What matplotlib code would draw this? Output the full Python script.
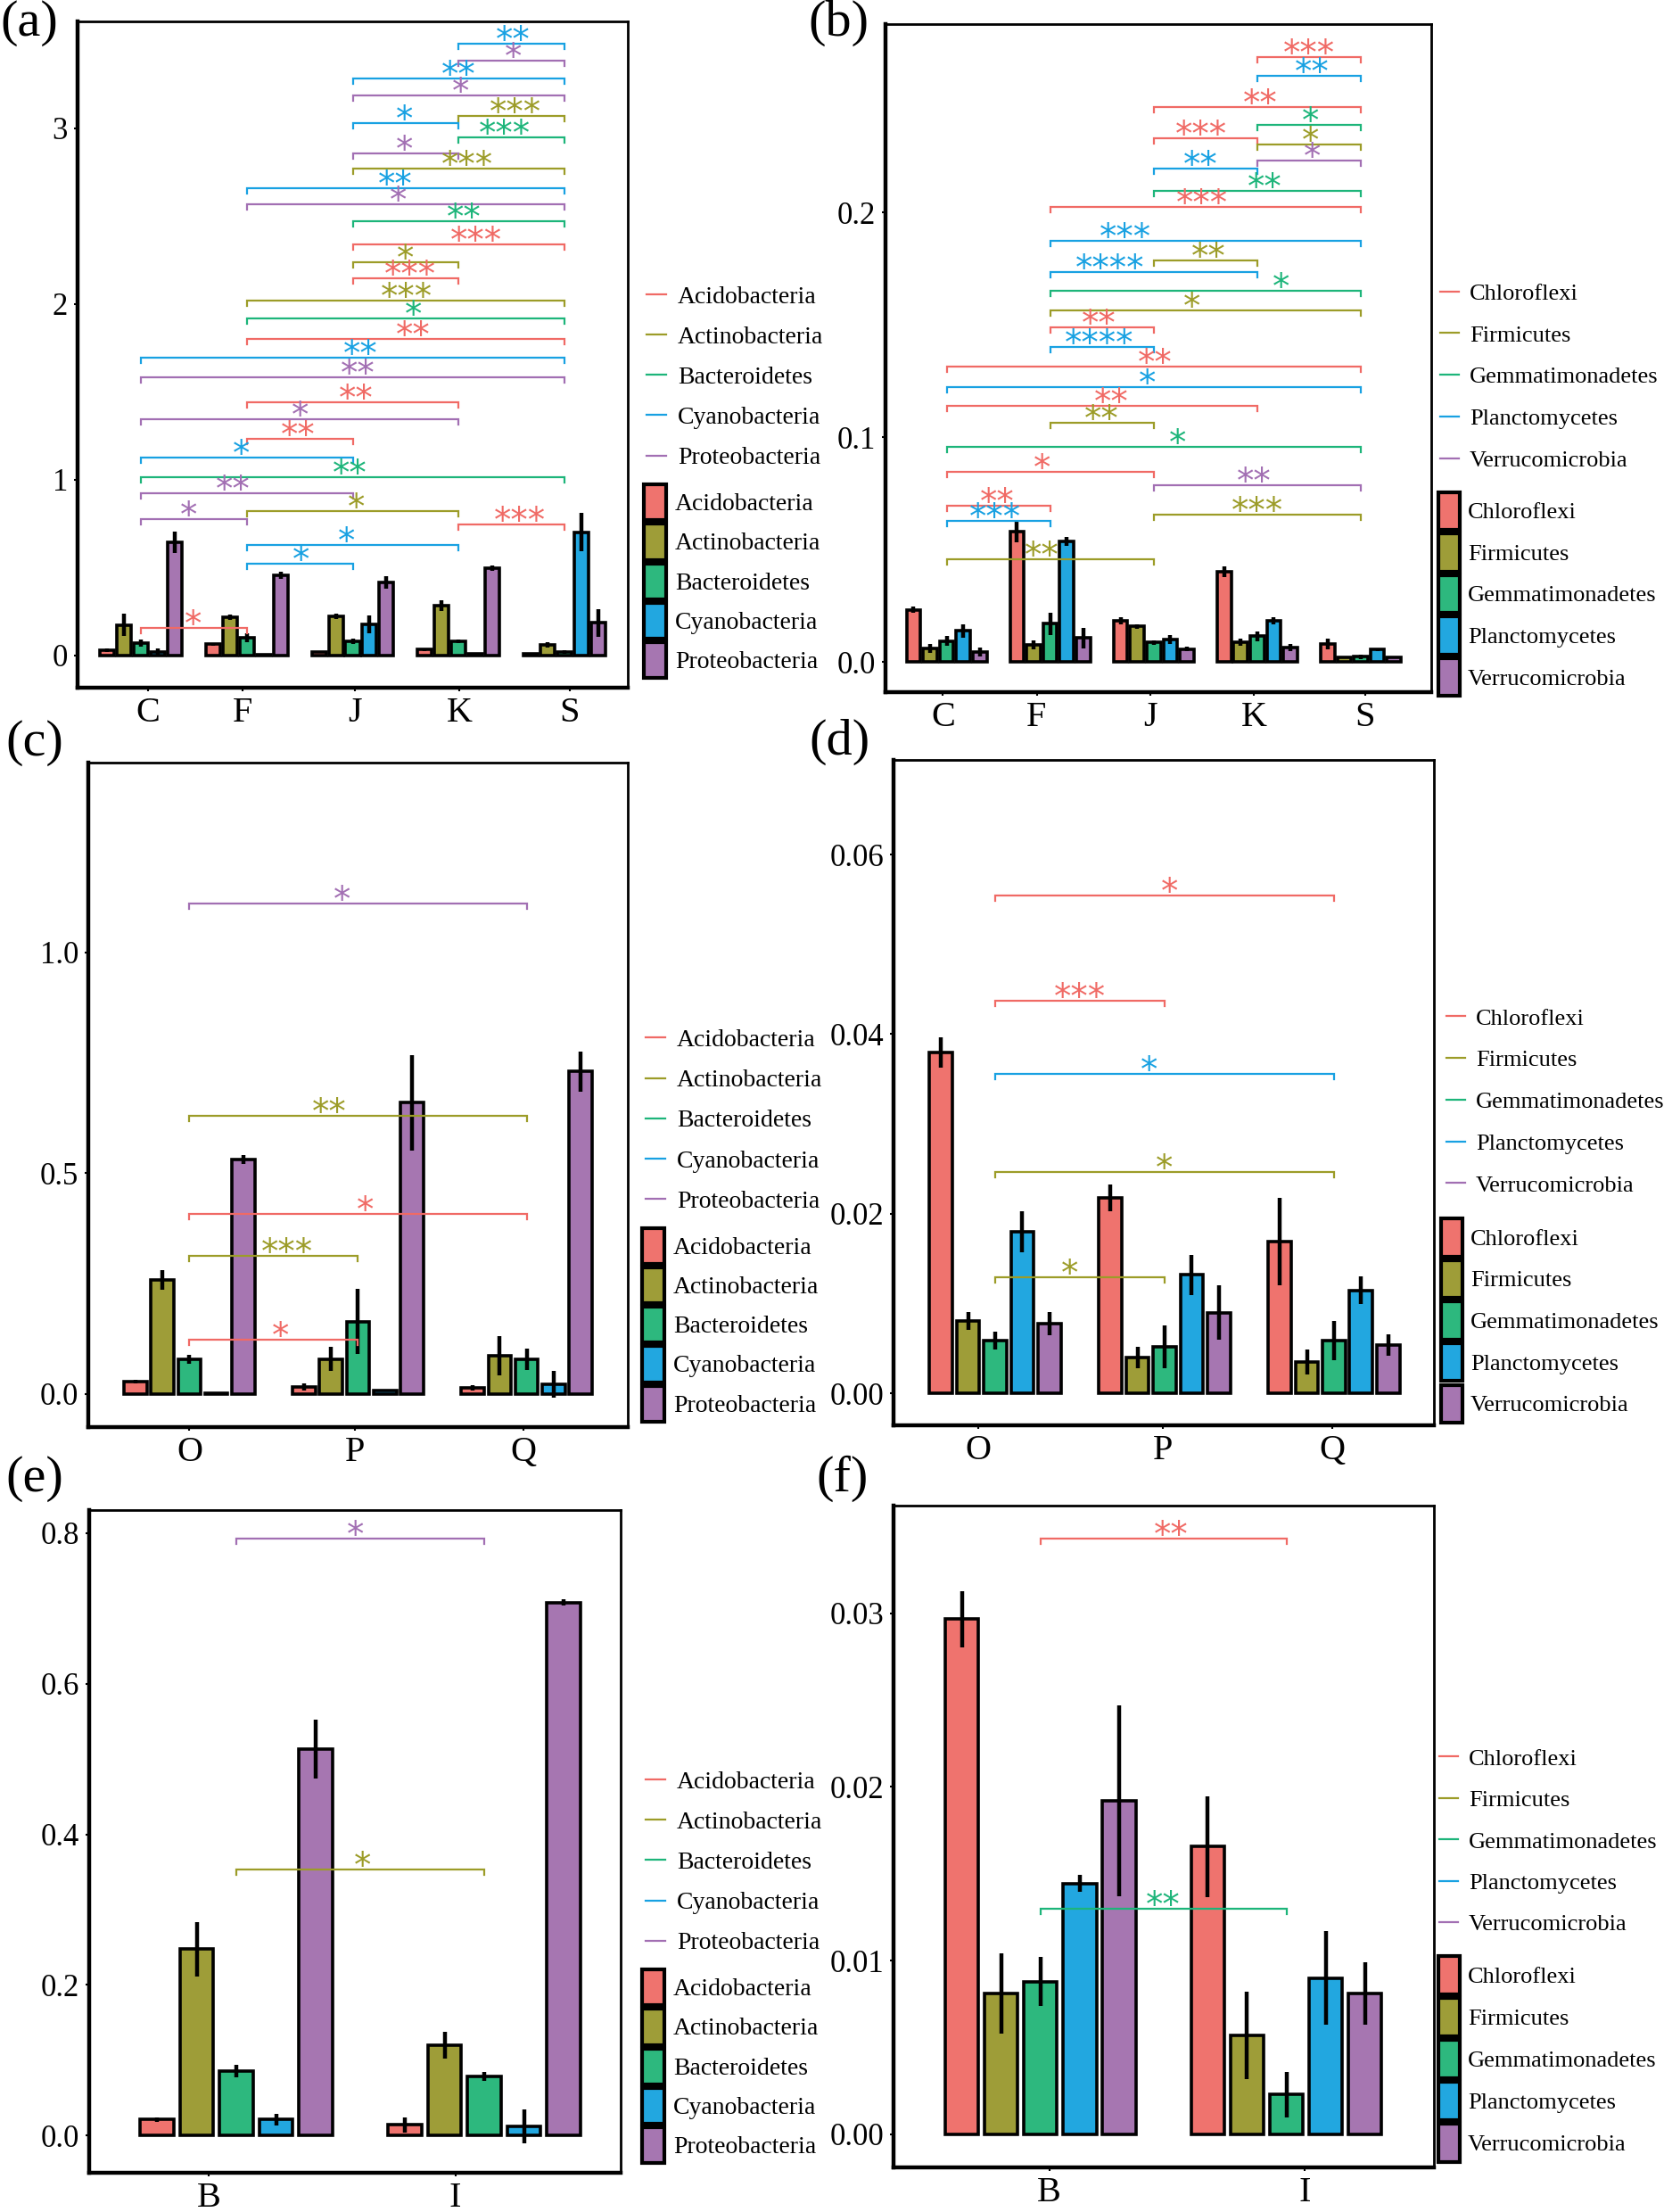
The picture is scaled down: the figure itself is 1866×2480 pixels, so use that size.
import numpy as np
import matplotlib.pyplot as plt
import matplotlib.transforms as mtransforms
from matplotlib.lines import Line2D
from matplotlib.patches import Patch

plt.rcParams['font.family'] = ['Liberation Serif', 'DejaVu Serif']

W, H = 1866, 2480

# fill colours of the bars and colours of the comparison brackets
PAL = ['#EF736E', '#9E9D38', '#2DB87E', '#22A7E0', '#A676B1']
LINE_PAL = ['#F06A65', '#9C9C28', '#1DB57A', '#18A1E2', '#A26FB3']

phyla_1 = ['Acidobacteria', 'Actinobacteria', 'Bacteroidetes', 'Cyanobacteria', 'Proteobacteria']
phyla_2 = ['Chloroflexi', 'Firmicutes', 'Gemmatimonadetes', 'Planctomycetes', 'Verrucomicrobia']

sites_ab = ['C', 'F', 'J', 'K', 'S']
sites_cd = ['O', 'P', 'Q']
sites_ef = ['B', 'I']

# ---- (a) dominant phyla, sites C F J K S ----
a_mean = [
    [0.030, 0.064, 0.022, 0.034, 0.012],
    [0.174, 0.218, 0.225, 0.286, 0.059],
    [0.073, 0.100, 0.081, 0.080, 0.022],
    [0.020, 0.005, 0.178, 0.009, 0.702],
    [0.643, 0.457, 0.415, 0.496, 0.186],
]
a_err = [
    [0.008, 0.008, 0.005, 0.008, 0.004],
    [0.065, 0.015, 0.015, 0.030, 0.015],
    [0.020, 0.025, 0.015, 0.010, 0.010],
    [0.020, 0.003, 0.050, 0.003, 0.110],
    [0.060, 0.020, 0.035, 0.015, 0.080],
]
# (phylum, group from, group to, bracket height, stars, star x)
a_brackets = [
    (3, 4, 5, 3.481, '**', 4.515),
    (4, 4, 5, 3.387, '*', 4.52),
    (3, 3, 5, 3.286, '**', 4.0),
    (4, 3, 5, 3.186, '*', 4.02),
    (1, 4, 5, 3.071, '***', 4.54),
    (3, 3, 4, 3.029, '*', 3.49),
    (2, 4, 5, 2.949, '***', 4.44),
    (4, 3, 4, 2.859, '*', 3.49),
    (1, 3, 5, 2.772, '***', 4.08),
    (3, 2, 5, 2.660, '**', 3.40),
    (4, 2, 5, 2.567, '*', 3.43),
    (2, 3, 5, 2.474, '**', 4.05),
    (0, 3, 5, 2.339, '***', 4.17),
    (1, 3, 4, 2.237, '*', 3.50),
    (0, 3, 4, 2.149, '***', 3.54),
    (1, 2, 5, 2.022, '***', 3.51),
    (2, 2, 5, 1.917, '*', 3.57),
    (0, 2, 5, 1.802, '**', 3.57),
    (3, 1, 5, 1.695, '**', 3.07),
    (4, 1, 5, 1.585, '**', 3.05),
    (0, 2, 4, 1.443, '**', 3.03),
    (4, 1, 4, 1.345, '*', 2.50),
    (0, 2, 3, 1.235, '**', 2.48),
    (3, 1, 3, 1.125, '*', 1.95),
    (2, 1, 5, 1.015, '**', 2.97),
    (4, 1, 3, 0.925, '**', 1.87),
    (1, 2, 4, 0.821, '*', 3.03),
    (4, 1, 2, 0.775, '*', 1.45),
    (0, 4, 5, 0.745, '***', 4.58),
    (3, 2, 4, 0.631, '*', 2.94),
    (3, 2, 3, 0.521, '*', 2.51),
    (0, 1, 2, 0.156, '*', 1.49),
]

# ---- (b) rare phyla, sites C F J K S ----
b_mean = [
    [0.0234, 0.0582, 0.0185, 0.0402, 0.0082],
    [0.0062, 0.0078, 0.0159, 0.0089, 0.0022],
    [0.0095, 0.0171, 0.0089, 0.0115, 0.0025],
    [0.0139, 0.0536, 0.0102, 0.0184, 0.0056],
    [0.0046, 0.0108, 0.0058, 0.0065, 0.0022],
]
b_err = [
    [0.0015, 0.0050, 0.0015, 0.0025, 0.0025],
    [0.0020, 0.0020, 0.0010, 0.0015, 0.0005],
    [0.0020, 0.0050, 0.0010, 0.0020, 0.0010],
    [0.0030, 0.0020, 0.0020, 0.0015, 0.0005],
    [0.0020, 0.0045, 0.0010, 0.0015, 0.0005],
]
b_brackets = [
    (0, 4, 5, 0.2692, '***', 4.50),
    (3, 4, 5, 0.2608, '**', 4.53),
    (0, 3, 5, 0.2470, '**', 4.03),
    (2, 4, 5, 0.2390, '*', 4.51),
    (0, 3, 4, 0.2331, '***', 3.46),
    (1, 4, 5, 0.2304, '*', 4.51),
    (4, 4, 5, 0.2231, '*', 4.53),
    (3, 3, 4, 0.2196, '**', 3.45),
    (2, 3, 5, 0.2096, '**', 4.07),
    (0, 2, 5, 0.2026, '***', 3.47),
    (3, 2, 5, 0.1874, '***', 2.73),
    (1, 3, 4, 0.1787, '**', 3.53),
    (3, 2, 4, 0.1735, '****', 2.58),
    (2, 2, 5, 0.1652, '*', 4.23),
    (1, 2, 5, 0.1567, '*', 3.37),
    (0, 2, 3, 0.1491, '**', 2.47),
    (3, 2, 3, 0.1401, '****', 2.47),
    (0, 1, 5, 0.1316, '**', 3.01),
    (3, 1, 5, 0.1223, '*', 2.94),
    (0, 1, 4, 0.1140, '**', 2.59),
    (1, 2, 3, 0.1065, '**', 2.50),
    (2, 1, 5, 0.0959, '*', 3.23),
    (0, 1, 3, 0.0849, '*', 1.92),
    (4, 3, 5, 0.0787, '**', 3.97),
    (0, 1, 2, 0.0697, '**', 1.49),
    (1, 3, 5, 0.0655, '***', 4.00),
    (3, 1, 2, 0.0627, '***', 1.47),
    (1, 1, 3, 0.0459, '**', 1.92),
]

# ---- (c) dominant phyla, sites O P Q ----
c_mean = [
    [0.028, 0.015, 0.013],
    [0.258, 0.079, 0.086],
    [0.079, 0.164, 0.079],
    [0.002, 0.007, 0.021],
    [0.531, 0.660, 0.730],
]
c_err = [
    [0.004, 0.008, 0.006],
    [0.023, 0.027, 0.045],
    [0.010, 0.074, 0.024],
    [0.001, 0.002, 0.030],
    [0.010, 0.108, 0.046],
]
c_brackets = [
    (4, 1, 3, 1.110, '*', 1.904),
    (1, 1, 3, 0.629, '**', 1.827),
    (0, 1, 3, 0.407, '*', 2.04),
    (1, 1, 2, 0.312, '***', 1.577),
    (0, 1, 2, 0.122, '*', 1.54),
]

# ---- (d) rare phyla, sites O P Q ----
d_mean = [
    [0.0380, 0.0218, 0.0169],
    [0.0081, 0.0040, 0.0035],
    [0.0059, 0.0052, 0.0059],
    [0.0180, 0.0132, 0.0115],
    [0.0078, 0.0090, 0.0054],
]
d_err = [
    [0.0017, 0.0015, 0.0049],
    [0.0010, 0.0012, 0.0014],
    [0.0010, 0.0024, 0.0022],
    [0.0023, 0.0022, 0.0015],
    [0.0013, 0.0030, 0.0012],
]
d_brackets = [
    (0, 1, 3, 0.0554, '*', 2.03),
    (0, 1, 2, 0.0437, '***', 1.50),
    (3, 1, 3, 0.0356, '*', 1.91),
    (1, 1, 3, 0.0247, '*', 2.00),
    (1, 1, 2, 0.0129, '*', 1.44),
]

# ---- (e) dominant phyla, sites B I ----
e_mean = [
    [0.0211, 0.0139],
    [0.2477, 0.1196],
    [0.0858, 0.0785],
    [0.0211, 0.0121],
    [0.5136, 0.7080],
]
e_err = [
    [0.003, 0.010],
    [0.036, 0.018],
    [0.008, 0.006],
    [0.008, 0.022],
    [0.039, 0.004],
]
e_brackets = [
    (4, 1, 2, 0.793, '*', 1.48),
    (1, 1, 2, 0.3535, '*', 1.51),
]

# ---- (f) rare phyla, sites B I ----
f_mean = [
    [0.02966, 0.01657],
    [0.00810, 0.00570],
    [0.00880, 0.00230],
    [0.01445, 0.00900],
    [0.01920, 0.00810],
]
f_err = [
    [0.0016, 0.0029],
    [0.0023, 0.0025],
    [0.0014, 0.0013],
    [0.0005, 0.0027],
    [0.0055, 0.0018],
]
f_brackets = [
    (0, 1, 2, 0.0343, '**', 1.53),
    (2, 1, 2, 0.0130, '**', 1.50),
]

BAR_W = 0.135
DODGE = 0.16

fig = plt.figure(figsize=(W / 100, H / 100), dpi=100)


def px_axes(left, top, right, bottom):
    return fig.add_axes([left / W, 1 - bottom / H, (right - left) / W, (bottom - top) / H])


def draw_panel(box, sites, mean, err, brackets, xlim, ylim, yticks, ylabels, xtick_pos):
    ax = px_axes(*box)
    x = np.arange(1, len(sites) + 1)
    for k in range(5):
        ax.bar(x + (k - 2) * DODGE, mean[k], width=BAR_W, color=PAL[k],
               edgecolor='black', linewidth=2.6, zorder=2,
               yerr=err[k], error_kw=dict(ecolor='black', elinewidth=3.2, capsize=0, zorder=2.5))
    ax.set_xlim(*xlim)
    ax.set_ylim(*ylim)

    # bracket end ticks ~6 px long
    ax_h = box[3] - box[1]
    tick = (ylim[1] - ylim[0]) * 6 / ax_h
    star_tr = mtransforms.offset_copy(ax.transData, fig=fig, y=-8, units='dots')
    for k, g1, g2, y, lab, lx in brackets:
        ax.plot([g1, g1, g2, g2], [y - tick, y, y, y - tick], color=LINE_PAL[k],
                lw=1.6, zorder=3, solid_joinstyle='miter')
        ax.text(lx, y, lab, transform=star_tr, ha='center', va='baseline',
                color=LINE_PAL[k], fontsize=28, family='DejaVu Sans', zorder=4)

    ax.set_yticks(yticks)
    ax.set_yticklabels(ylabels, fontsize=25)
    ax.set_xticks(xtick_pos)
    ax.set_xticklabels(sites, fontsize=29)
    ax.tick_params(axis='y', length=3, width=1.5, pad=5)
    ax.tick_params(axis='x', length=3, width=1.5, pad=4)
    for side in ['left', 'bottom']:
        ax.spines[side].set_linewidth(3.2)
    for side in ['top', 'right']:
        ax.spines[side].set_linewidth(2.0)
    return ax


def add_legends(names, x_line, c_line, p_line, x_patch, c_patch, p_patch, fs):
    # c_*: centre of first entry (px), p_*: distance between entries (px)
    fpx = fs * 100 / 72
    ls = p_line / fpx - 0.9
    line_h = [Line2D([], [], color=LINE_PAL[k], lw=1.6) for k in range(5)]
    fig.legend(line_h, names, loc='upper left',
               bbox_to_anchor=(x_line / W, 1 - (c_line - 0.37 * fpx) / H),
               frameon=False, fontsize=fs, handlelength=0.8, labelspacing=ls,
               handletextpad=0.45, borderpad=0, borderaxespad=0)
    gap = 4.2
    hh = ((p_patch - gap) / fpx - 0.245) / 0.65
    patch_h = [Patch(facecolor=PAL[k], edgecolor='black', linewidth=3) for k in range(5)]
    fig.legend(patch_h, names, loc='upper left',
               bbox_to_anchor=(x_patch / W, 1 - (c_patch - (0.3 * hh + 0.16) * fpx) / H),
               frameon=False, fontsize=fs, handlelength=0.9, handleheight=hh,
               labelspacing=gap / fpx, handletextpad=0.35, borderpad=0, borderaxespad=0)


draw_panel((87, 24, 704, 771), sites_ab, a_mean, a_err, a_brackets,
           (0.4, 5.6), (-0.183, 3.609), [0, 1, 2, 3], ['0', '1', '2', '3'],
           [1.066, 1.96, 3.02, 4.01, 5.05])
draw_panel((993, 27, 1605, 776), sites_ab, b_mean, b_err, b_brackets,
           (0.41, 5.68), (-0.0133, 0.2839), [0, 0.1, 0.2], ['0.0', '0.1', '0.2'],
           [0.964, 1.87, 2.97, 3.97, 5.04])
draw_panel((99, 855, 704, 1600), sites_cd, c_mean, c_err, c_brackets,
           (0.4, 3.6), (-0.0753, 1.43), [0, 0.5, 1.0], ['0.0', '0.5', '1.0'],
           [1.0, 1.98, 2.98])
draw_panel((1002, 852, 1608, 1598), sites_cd, d_mean, d_err, d_brackets,
           (0.4, 3.59), (-0.00354, 0.07053), [0, 0.02, 0.04, 0.06],
           ['0.00', '0.02', '0.04', '0.06'], [0.9, 1.99, 2.99])
draw_panel((100, 1693, 696, 2436), sites_ef, e_mean, e_err, e_brackets,
           (0.406, 2.55), (-0.0495, 0.8308), [0, 0.2, 0.4, 0.6, 0.8],
           ['0.0', '0.2', '0.4', '0.6', '0.8'], [0.888, 1.883])
draw_panel((1002, 1688, 1608, 2430), sites_ef, f_mean, f_err, f_brackets,
           (0.402, 2.6), (-0.0019, 0.0362), [0, 0.01, 0.02, 0.03],
           ['0.00', '0.01', '0.02', '0.03'], [1.036, 2.074])

add_legends(phyla_1, 725, 330.5, 44.7, 722, 563, 44.3, 20)
add_legends(phyla_2, 1615, 327.3, 47.0, 1613, 572.5, 46.6, 19)
add_legends(phyla_1, 724, 1164, 44.7, 720, 1396.4, 44.3, 20)
add_legends(phyla_2, 1622, 1140, 47.0, 1616, 1387, 46.6, 19)
add_legends(phyla_1, 724, 1995.7, 44.7, 720, 2228, 44.3, 20)
add_legends(phyla_2, 1614, 1970, 46.7, 1613, 2214, 47.0, 19)

for lab, xp, yp in [('(a)', 0, 26), ('(b)', 906, 26), ('(c)', 6, 833),
                    ('(d)', 907, 832), ('(e)', 6, 1658), ('(f)', 915, 1658)]:
    fig.text(xp / W, 1 - yp / H, lab, fontsize=42, ha='left', va='center')

fig.savefig('out.png', dpi=100)
